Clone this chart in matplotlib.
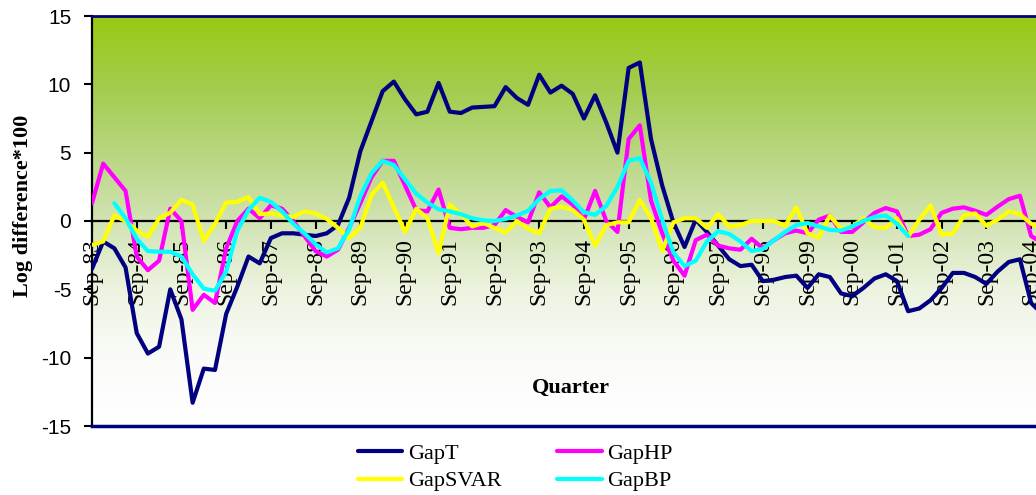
import numpy as np
import matplotlib
matplotlib.use("Agg")
import matplotlib.pyplot as plt
from matplotlib.colors import LinearSegmentedColormap

plt.rcParams['axes.unicode_minus'] = False

# quarterly output gap estimates, Sep-83 .. Dec-04
quarters = [f"{m}-{y:02d}" for y in range(83, 105) for m in ("Sep", "Dec", "Mar", "Jun")][:86]
tick_labels = [f"Sep-{y % 100:02d}" for y in range(1983, 2005)]

gap_t = [-3.5, -1.5, -2.0, -3.4, -8.2, -9.7, -9.2, -5.0, -7.2, -13.3,
         -10.8, -10.9, -6.8, -4.8, -2.6, -3.1, -1.25, -0.9, -0.9, -1.0,
         -1.1, -0.9, -0.3, 1.7, 5.1, 7.3, 9.5, 10.2, 8.9, 7.8,
         8.0, 10.1, 8.0, 7.9, 8.3, 8.35, 8.4, 9.8, 9.0, 8.5,
         10.7, 9.4, 9.9, 9.3, 7.5, 9.2, 7.2, 5.0, 11.2, 11.6,
         6.0, 2.6, -0.1, -1.9, 0.1, -0.8, -1.8, -2.8, -3.3, -3.2,
         -4.4, -4.3, -4.1, -4.0, -4.9, -3.9, -4.1, -5.3, -5.5, -4.9,
         -4.2, -3.9, -4.4, -6.6, -6.4, -5.8, -4.9, -3.8, -3.8, -4.1,
         -4.6, -3.7, -3.0, -2.8, -6.0, -6.8]

gap_hp = [1.3, 4.2, 3.2, 2.2, -2.6, -3.6, -2.9, 0.9, 0.0, -6.5,
          -5.4, -6.0, -2.0, 0.0, 0.9, 0.2, 1.15, 0.9, 0.0, -1.1,
          -2.2, -2.6, -2.1, -0.5, 1.3, 3.2, 4.4, 4.4, 2.6, 0.8,
          0.7, 2.3, -0.5, -0.6, -0.5, -0.5, -0.3, 0.8, 0.3, -0.1,
          2.1, 1.0, 1.8, 1.2, 0.1, 2.2, 0.0, -0.8, 6.0, 7.0,
          1.5, -0.9, -2.9, -4.0, -1.4, -1.0, -1.8, -2.0, -2.1, -1.3,
          -2.0, -1.4, -0.9, -0.7, -0.9, 0.1, 0.4, -0.8, -0.8, -0.1,
          0.6, 0.95, 0.7, -1.1, -1.0, -0.6, 0.6, 0.9, 1.0, 0.75,
          0.45, 1.05, 1.6, 1.85, -1.1, -1.6]

gap_svar = [-1.75, -1.5, 0.4, 0.0, -0.7, -1.15, 0.2, 0.6, 1.55, 1.2,
            -1.45, -0.2, 1.35, 1.4, 1.75, 0.5, 0.55, 0.4, 0.3, 0.7,
            0.55, 0.15, -0.5, -1.25, -0.5, 1.9, 2.8, 1.0, -0.8, 0.9,
            0.2, -2.35, 1.2, 0.5, -0.4, -0.15, -0.5, -0.85, 0.0, -0.55,
            -0.9, 0.9, 1.05, 0.8, 0.1, -1.8, -0.3, -0.1, -0.1, 1.55,
            0.2, -2.2, -0.1, 0.2, 0.2, -0.5, 0.5, -0.4, -0.3, 0.0,
            0.0, 0.0, -0.35, 1.0, -0.9, -1.2, 0.4, -0.6, -0.4, 0.2,
            -0.45, -0.5, 0.2, -1.15, 0.1, 1.15, -1.0, -0.9, 0.4, 0.55,
            -0.35, 0.1, 0.7, 0.5, -0.2, -0.6]

# band-pass filter loses the first two and last twelve quarters
gap_bp = [None, None, 1.3, 0.2, -1.3, -2.2, -2.25, -2.25, -2.6, -3.9,
          -4.95, -5.1, -3.7, -0.7, 0.8, 1.7, 1.4, 0.7, -0.2, -0.9,
          -1.7, -2.3, -2.0, -0.6, 1.8, 3.5, 4.4, 4.1, 3.05, 2.0,
          1.35, 0.85, 0.7, 0.5, 0.2, 0.05, 0.0, 0.15, 0.4, 0.75,
          1.6, 2.2, 2.25, 1.5, 0.65, 0.45, 1.1, 2.5, 4.4, 4.6,
          2.8, 0.1, -2.3, -3.3, -2.9, -1.5, -0.75, -0.95, -1.5, -2.2,
          -2.05, -1.4, -0.8, -0.3, -0.15, -0.4, -0.65, -0.7, -0.4, 0.0,
          0.3, 0.4, -0.2, -1.1, None, None, None, None, None, None,
          None, None, None, None, None, None]

series = [
    ("GapT", gap_t, "#000080"),
    ("GapHP", gap_hp, "#FF00FF"),
    ("GapSVAR", gap_svar, "#FFFF00"),
    ("GapBP", gap_bp, "#00FFFF"),
]

fig = plt.figure(figsize=(10.36, 4.95), dpi=100)
ax = fig.add_axes([92 / 1036, 1 - 426 / 495, 944 / 1036, 410 / 495])

# category axis sits on the zero line; set this first since it resets the ticks
ax.spines["bottom"].set_position(("data", 0))

x = np.arange(len(quarters))
xmax = 944 / 11.18

# green-to-white background of the plot area
bg = LinearSegmentedColormap.from_list("bg", [
    (0.0, (1.0, 1.0, 1.0)),
    (0.17, (0.98, 0.985, 0.975)),
    (0.33, (0.93, 0.955, 0.88)),
    (0.5, (0.82, 0.89, 0.70)),
    (0.67, (0.72, 0.84, 0.50)),
    (0.83, (0.64, 0.80, 0.30)),
    (1.0, (0.60, 0.79, 0.07)),
])
grad = np.linspace(0, 1, 256).reshape(-1, 1)
ax.imshow(grad, cmap=bg, origin="lower", aspect="auto",
          extent=[0, xmax, -15, 15], zorder=0)

handles = {}
for name, vals, col in series:
    y = np.array([np.nan if v is None else v for v in vals], dtype=float)
    ln, = ax.plot(x, y, color=col, lw=3.0, solid_joinstyle="round",
                  solid_capstyle="round", label=name, zorder=3)
    handles[name] = ln

ax.set_xlim(0, xmax)
ax.set_ylim(-15, 15)
ax.set_axisbelow(True)

ax.set_xticks(np.arange(0, 85, 4))
ax.set_xticklabels(tick_labels, rotation=90, family="Liberation Serif", fontsize=17)
ax.set_yticks(np.arange(-15, 16, 5))
ax.set_yticklabels([str(v) for v in range(-15, 16, 5)], family="Liberation Sans", fontsize=15)
ax.tick_params(axis="x", direction="out", length=6, width=1.5, pad=6)
ax.tick_params(axis="y", direction="out", length=6, width=1.5, pad=9)

ax.spines["bottom"].set_linewidth(1.6)
ax.spines["left"].set_linewidth(1.6)
ax.spines["right"].set_visible(False)
ax.spines["top"].set_color("#000080")
ax.spines["top"].set_linewidth(2)
ax.axhline(-15, color="#000080", lw=2.5, clip_on=False, zorder=4)

fig.text(23 / 1036, 1 - 206 / 495, "Log difference*100", rotation=90,
         ha="center", va="center", family="Liberation Serif",
         fontweight="bold", fontsize=16)
fig.text(571 / 1036, 1 - 388 / 495, "Quarter", ha="center", va="center",
         family="Liberation Serif", fontweight="bold", fontsize=16)

order = ["GapT", "GapSVAR", "GapHP", "GapBP"]
fig.legend([handles[n] for n in order], order, ncol=2, frameon=False,
           loc="upper left", bbox_to_anchor=(358 / 1036, 1 - 443 / 495),
           borderaxespad=0, borderpad=0, handlelength=2.0, handletextpad=0.25,
           columnspacing=2.5, labelspacing=0.33,
           prop={"family": "Liberation Serif", "size": 16})

fig.savefig("out.png", dpi=100)
